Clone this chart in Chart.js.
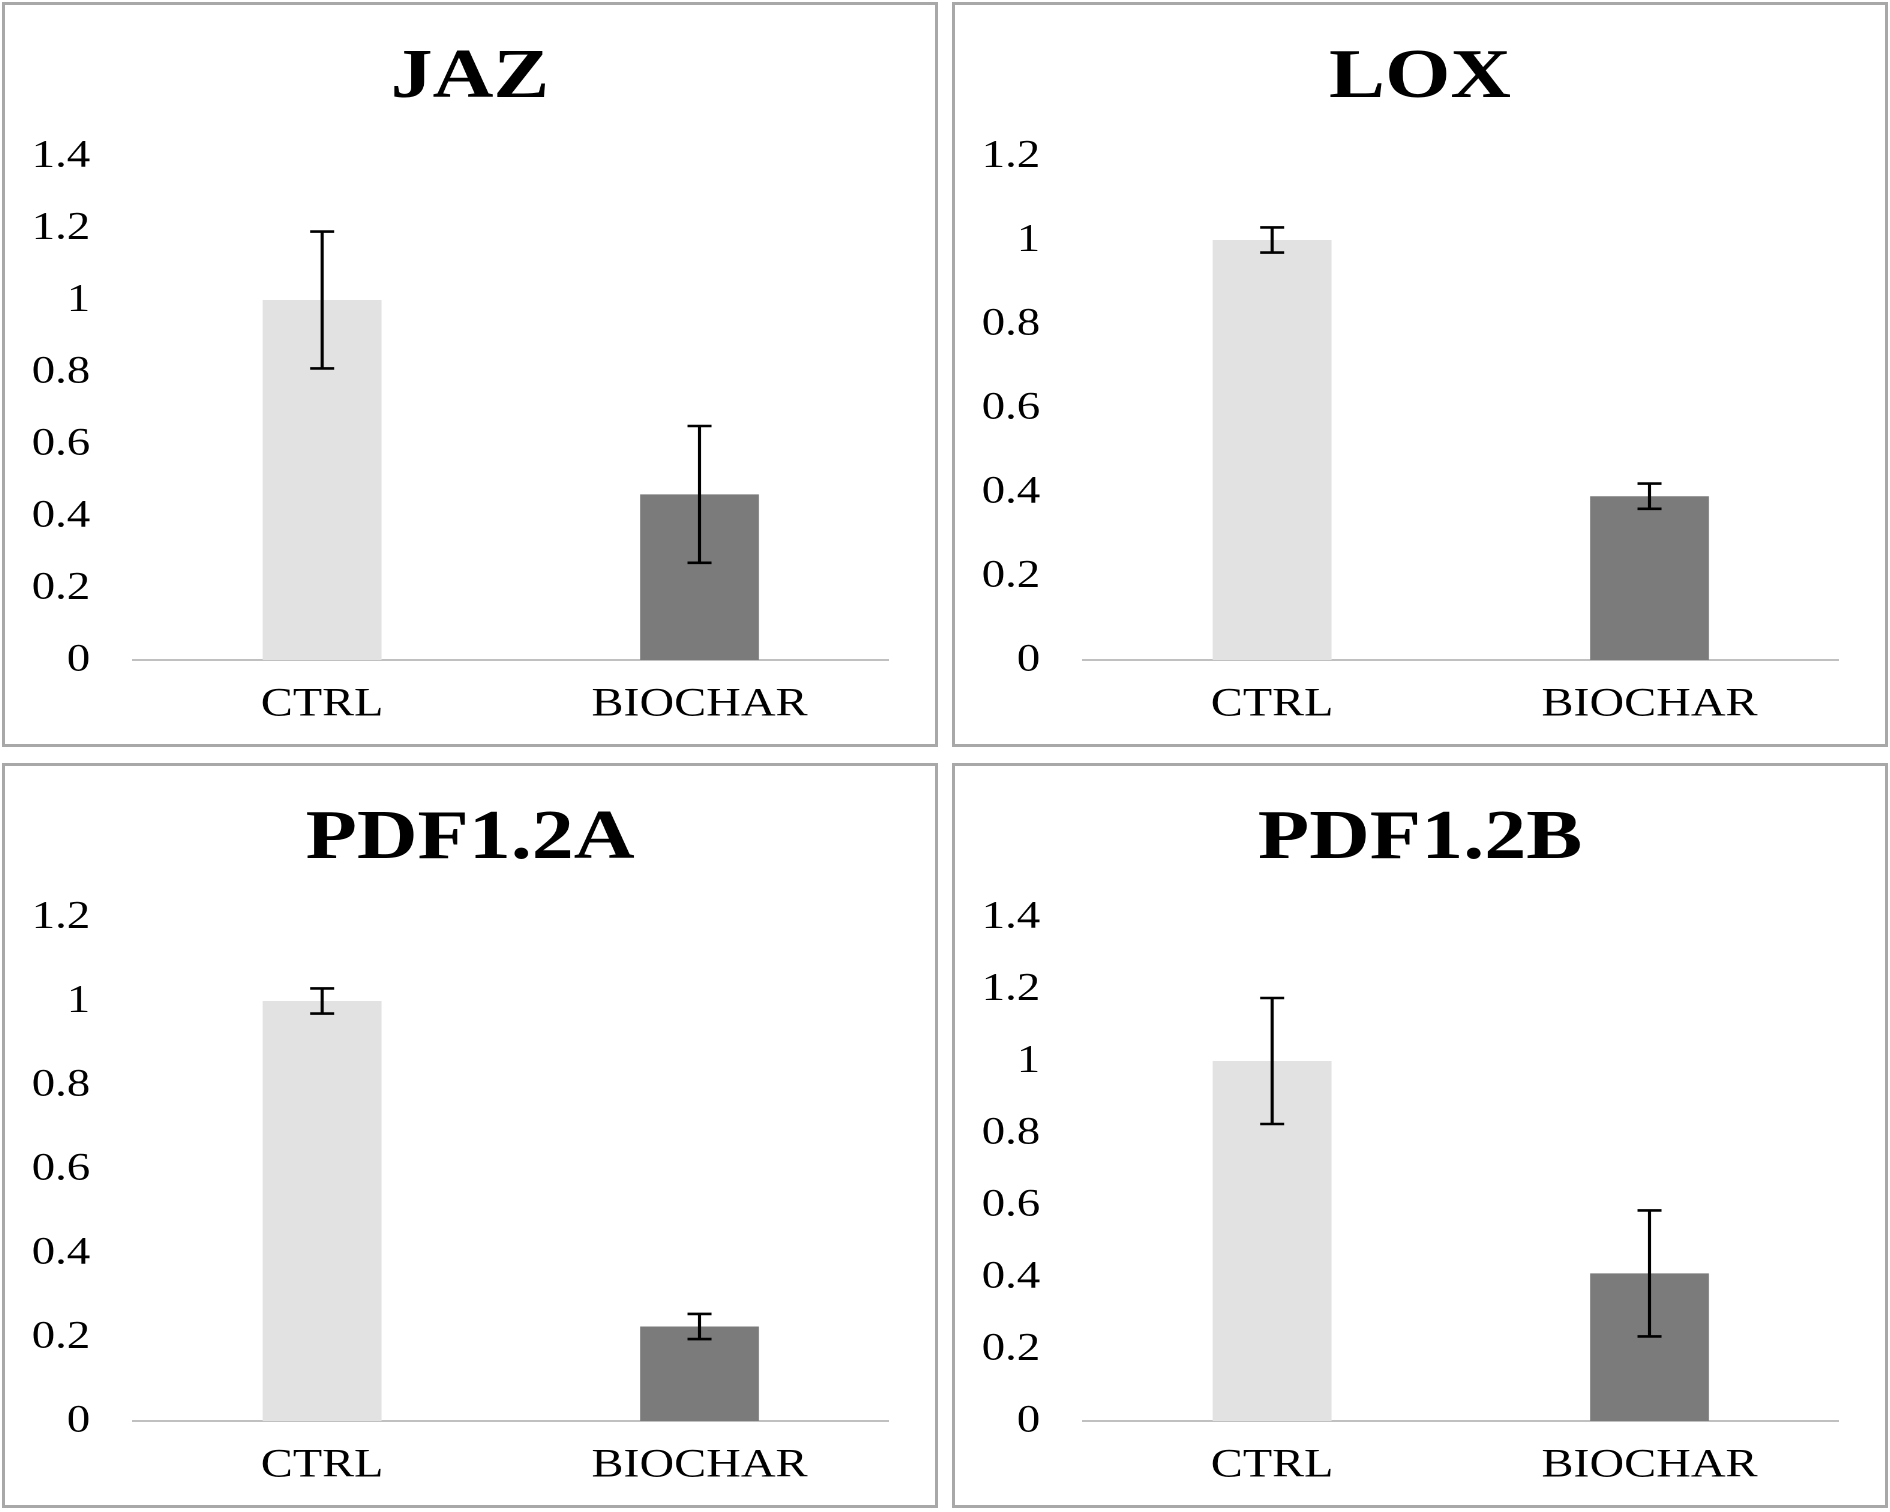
<!DOCTYPE html>
<html>
<head>
<meta charset="utf-8">
<script src="https://cdn.jsdelivr.net/npm/chart.js@4.4.1/dist/chart.umd.min.js"></script>
<style>
  html, body { margin: 0; padding: 0; background: #fff; }
  #grid {
    display: grid;
    grid-template-columns: 936px 936px;
    grid-template-rows: 745px 745px;
    column-gap: 14px;
    row-gap: 16px;
    padding: 2px;
    width: 1890px;
    height: 1512px;
    box-sizing: border-box;
  }
  .panel { border: 3px solid #a8a8a8; box-sizing: border-box; background: #fff; overflow: hidden; }
  /* the original figure is stretched sideways, so the chart is drawn narrower and widened */
  .box { position: relative; width: 775px; height: 739px; transform: scaleX(1.2); transform-origin: 0 0; }
</style>
</head>
<body>
<div id="grid">
  <div class="panel"><div class="box"><canvas id="jaz"></canvas></div></div>
  <div class="panel"><div class="box"><canvas id="lox"></canvas></div></div>
  <div class="panel"><div class="box"><canvas id="pdfa"></canvas></div></div>
  <div class="panel"><div class="box"><canvas id="pdfb"></canvas></div></div>
</div>
<script>
const categories = ['CTRL', 'BIOCHAR'];
const barColors = ['#e2e2e2', '#7b7b7b'];

const jazMeans = [1.0, 0.46];
const jazErrors = [0.19, 0.19];
const jazTicks = [0, 0.2, 0.4, 0.6, 0.8, 1, 1.2, 1.4];

const loxMeans = [1.0, 0.39];
const loxErrors = [0.03, 0.03];
const loxTicks = [0, 0.2, 0.4, 0.6, 0.8, 1, 1.2];

const pdfaMeans = [1.0, 0.225];
const pdfaErrors = [0.03, 0.03];
const pdfaTicks = [0, 0.2, 0.4, 0.6, 0.8, 1, 1.2];

const pdfbMeans = [1.0, 0.41];
const pdfbErrors = [0.175, 0.175];
const pdfbTicks = [0, 0.2, 0.4, 0.6, 0.8, 1, 1.2, 1.4];

const serif = '"Liberation Serif", "Times New Roman", serif';

// error bars drawn on top of the bars, using the chart's own y scale
const errorBars = {
  id: 'errorBars',
  afterDatasetsDraw(chart) {
    const ctx = chart.ctx;
    const y = chart.scales.y;
    const ds = chart.data.datasets[0];
    const meta = chart.getDatasetMeta(0);
    ctx.save();
    ctx.strokeStyle = '#000';
    ctx.lineWidth = 2.6;
    meta.data.forEach((bar, i) => {
      const top = y.getPixelForValue(ds.data[i] + ds.errors[i]);
      const bot = y.getPixelForValue(ds.data[i] - ds.errors[i]);
      ctx.beginPath();
      ctx.moveTo(bar.x, top);
      ctx.lineTo(bar.x, bot);
      ctx.moveTo(bar.x - 10, top);
      ctx.lineTo(bar.x + 10, top);
      ctx.moveTo(bar.x - 10, bot);
      ctx.lineTo(bar.x + 10, bot);
      ctx.stroke();
    });
    ctx.restore();
  }
};

function makeChart(id, title, means, errors, ticks) {
  return new Chart(document.getElementById(id), {
    type: 'bar',
    data: {
      labels: categories,
      datasets: [{
        data: means,
        errors: errors,
        backgroundColor: barColors,
        barPercentage: 0.315,
        categoryPercentage: 1
      }]
    },
    options: {
      responsive: true,
      maintainAspectRatio: false,
      animation: false,
      devicePixelRatio: 2,
      layout: { padding: 0 },
      plugins: {
        legend: { display: false },
        tooltip: { enabled: false },
        title: {
          display: true,
          text: title,
          color: '#000',
          font: { family: serif, size: 70, weight: 'bold', lineHeight: 1 },
          padding: { top: 39, bottom: 42 }
        }
      },
      scales: {
        x: {
          grid: { display: false, drawTicks: false },
          border: { display: true, color: '#c0c0c0', width: 2 },
          ticks: { color: '#000', font: { family: serif, size: 40 }, padding: 21 },
          afterFit(s) { s.height = 84; }
        },
        y: {
          min: 0,
          max: ticks[ticks.length - 1],
          grid: { display: false, drawTicks: false },
          border: { display: false },
          ticks: {
            color: '#000',
            font: { family: serif, size: 39 },
            padding: 36,
            callback: v => String(v)
          },
          afterBuildTicks(s) { s.ticks = ticks.map(v => ({ value: v })); },
          afterFit(s) { s.width = 107; }
        },
        // empty right-hand spacer so the title stays centred on the panel
        spacer: {
          type: 'linear',
          position: 'right',
          grid: { display: false, drawTicks: false },
          border: { display: false },
          ticks: { display: false },
          afterFit(s) { s.width = 39; }
        }
      }
    },
    plugins: [errorBars]
  });
}

makeChart('jaz', 'JAZ', jazMeans, jazErrors, jazTicks);
makeChart('lox', 'LOX', loxMeans, loxErrors, loxTicks);
makeChart('pdfa', 'PDF1.2A', pdfaMeans, pdfaErrors, pdfaTicks);
makeChart('pdfb', 'PDF1.2B', pdfbMeans, pdfbErrors, pdfbTicks);
</script>
</body>
</html>
